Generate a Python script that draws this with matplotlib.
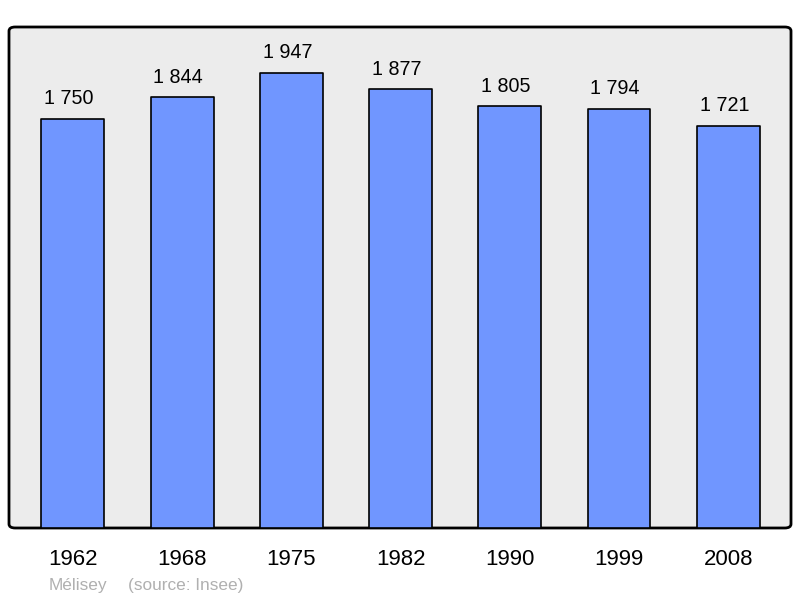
import matplotlib
matplotlib.use("Agg")
import matplotlib.pyplot as plt
from matplotlib.patches import FancyBboxPatch

# Data
years = ["1962", "1968", "1975", "1982", "1990", "1999", "2008"]
population = [1750, 1844, 1947, 1877, 1805, 1794, 1721]
value_labels = ["1 750", "1 844", "1 947", "1 877", "1 805", "1 794", "1 721"]
commune = "Mélisey"
source = "(source: Insee)"

plt.rcParams['font.family'] = ['Liberation Sans', 'DejaVu Sans']

fig = plt.figure(figsize=(8, 5.98), dpi=100)
ax = fig.add_axes([9 / 800, 70 / 598, 782 / 800, 501 / 598])
ax.set_facecolor("none")
for s in ax.spines.values():
    s.set_visible(False)

# rounded panel
panel = FancyBboxPatch((0, 0), 1, 1, boxstyle="round,pad=0,rounding_size=0.008",
                       transform=ax.transAxes, facecolor="#ececec",
                       edgecolor="black", linewidth=2, zorder=0, clip_on=False)
ax.add_patch(panel)

x = range(len(years))
bars = ax.bar(x, population, width=0.575, color="#7096ff", edgecolor="black",
              linewidth=1.2, zorder=2)
for b in bars:
    b.set_joinstyle("round")

ax.set_xlim(-0.585, 6.575)
ax.set_ylim(0, 2144)

# value labels sit a bit left of the bar centre, like the original
for xi, v, lab in zip(x, population, value_labels):
    ax.text(xi - 0.035, v + 86, lab, ha="center", va="center",
            fontsize=14.2, color="black")

ax.set_xticks(list(x))
ax.set_xticklabels(years, fontsize=16)
ax.tick_params(axis="x", length=0, pad=15)
ax.set_yticks([])

fig.text(49 / 800, 1 - 590 / 598, commune, ha="left", va="baseline",
         fontsize=12.4, color="#b0b0b0")
fig.text(128 / 800, 1 - 590 / 598, source, ha="left", va="baseline",
         fontsize=12.4, color="#b0b0b0")

fig.savefig("out.png", dpi=100)
